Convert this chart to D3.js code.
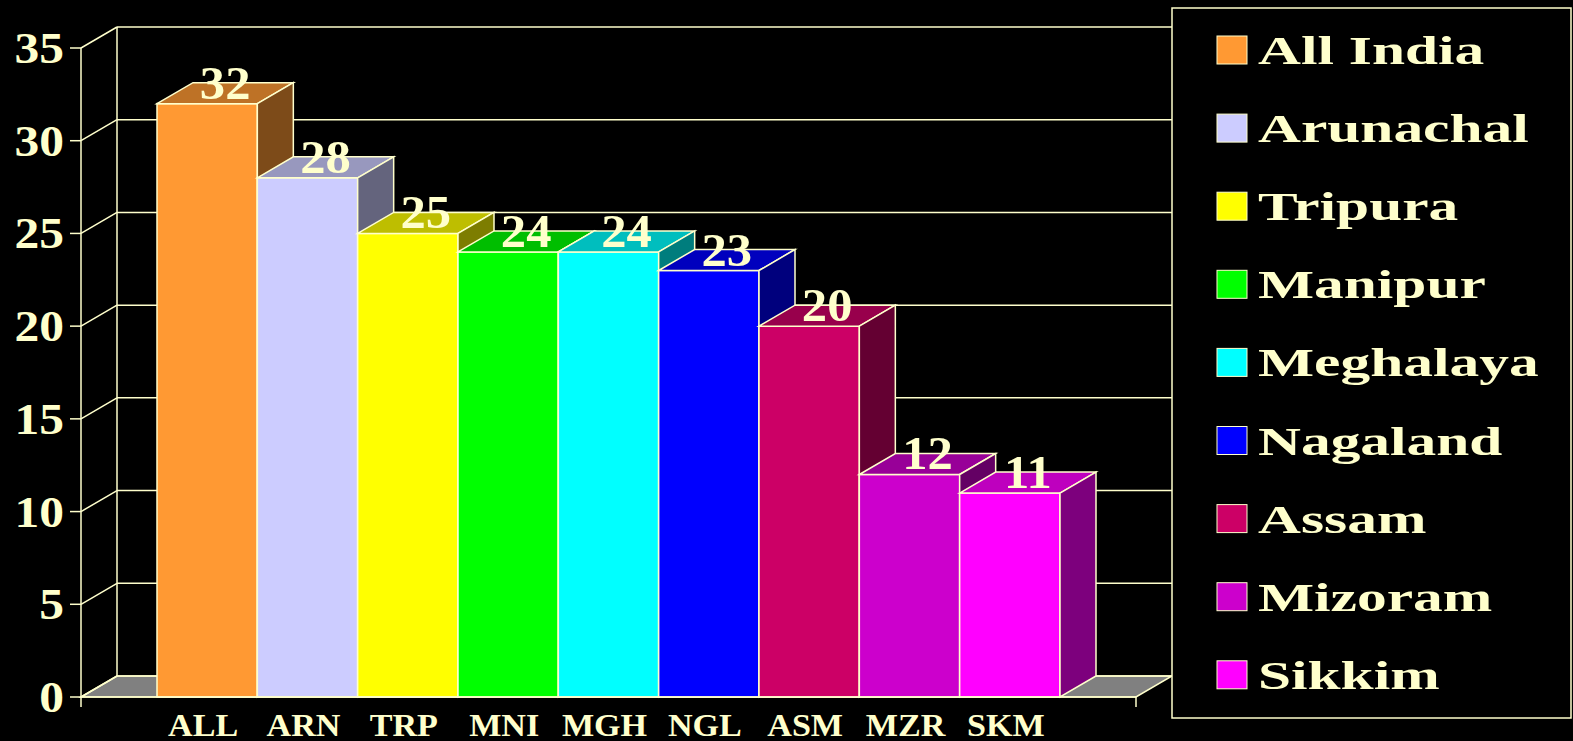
<!DOCTYPE html>
<html>
<head>
<meta charset="utf-8">
<script src="https://cdn.jsdelivr.net/npm/d3@7"></script>
<style>
  html, body { margin: 0; padding: 0; background: #000; overflow: hidden; }
  text { font-family: "Liberation Serif", "Times New Roman", serif; font-weight: bold; fill: #FFFFCC; }
</style>
</head>
<body>
<div class="barChart"></div>
<script>
var codes = ["ALL", "ARN", "TRP", "MNI", "MGH", "NGL", "ASM", "MZR", "SKM"];
var states = ["All India", "Arunachal", "Tripura", "Manipur", "Meghalaya", "Nagaland", "Assam", "Mizoram", "Sikkim"];
var values = [32, 28, 25, 24, 24, 23, 20, 12, 11];
var colors = ["#FF9933", "#CCCCFF", "#FFFF00", "#00FF00", "#00FFFF", "#0000FF", "#CC0066", "#CC00CC", "#FF00FF"];
var yTicks = [0, 5, 10, 15, 20, 25, 30, 35];

function init() {
  var w = 1573;
  var h = 741;
  var cream = "#FFFFCC";
  // oblique depth of the 3d box
  var dx = 36;
  var dy = -21;
  var axisLeft = 81;
  var axisRight = 1136;
  var stretch = " scale(1.1,1)"; // the slide text is a little wider than plain Times

  var dataset = codes.map(function(c, i) {
    return { code: c, name: states[i], value: values[i], color: colors[i] };
  });

  var xScale = d3.scaleBand()
    .domain(codes)
    .range([157, 1060])
    .padding(0);

  var yScale = d3.scaleLinear()
    .domain([0, 35])
    .range([697, 48]);

  var svg = d3.select(".barChart")
    .append("svg")
    .attr("width", w)
    .attr("height", h);

  var y0 = yScale(0);

  // floor
  svg.append("polygon")
    .attr("points", [[axisLeft, y0], [axisLeft + dx, y0 + dy], [axisRight + dx, y0 + dy], [axisRight, y0]].join(" "))
    .attr("fill", "#808080")
    .attr("stroke", cream)
    .attr("stroke-width", 1.5);

  // back wall gridlines and side wall diagonals
  svg.selectAll("line.grid")
    .data(yTicks)
    .enter()
    .append("line")
    .attr("class", "grid")
    .attr("x1", axisLeft + dx)
    .attr("x2", axisRight + dx)
    .attr("y1", function(d) { return yScale(d) + dy; })
    .attr("y2", function(d) { return yScale(d) + dy; })
    .attr("stroke", cream)
    .attr("stroke-width", 1.5);

  svg.selectAll("line.side")
    .data(yTicks)
    .enter()
    .append("line")
    .attr("class", "side")
    .attr("x1", axisLeft)
    .attr("x2", axisLeft + dx)
    .attr("y1", function(d) { return yScale(d); })
    .attr("y2", function(d) { return yScale(d) + dy; })
    .attr("stroke", cream)
    .attr("stroke-width", 1.5);

  svg.append("line")
    .attr("x1", axisLeft + dx)
    .attr("x2", axisLeft + dx)
    .attr("y1", yScale(0) + dy)
    .attr("y2", yScale(35) + dy)
    .attr("stroke", cream)
    .attr("stroke-width", 1.5);

  // bars, drawn left to right so each one covers the side of the previous
  var bars = svg.selectAll("g.bar")
    .data(dataset)
    .enter()
    .append("g")
    .attr("class", "bar");

  bars.append("rect")
    .attr("x", function(d) { return xScale(d.code); })
    .attr("y", function(d) { return yScale(d.value); })
    .attr("width", xScale.bandwidth())
    .attr("height", function(d) { return y0 - yScale(d.value); })
    .attr("fill", function(d) { return d.color; })
    .attr("stroke", cream)
    .attr("stroke-width", 1.5);

  bars.append("polygon")
    .attr("points", function(d) {
      var x0 = xScale(d.code), x1 = x0 + xScale.bandwidth(), yv = yScale(d.value);
      return [[x0, yv], [x0 + dx, yv + dy], [x1 + dx, yv + dy], [x1, yv]].join(" ");
    })
    .attr("fill", function(d) { return d3.rgb(d.color).darker(0.83); })
    .attr("stroke", cream)
    .attr("stroke-width", 1.5);

  bars.append("polygon")
    .attr("points", function(d) {
      var x1 = xScale(d.code) + xScale.bandwidth(), yv = yScale(d.value);
      return [[x1, yv], [x1 + dx, yv + dy], [x1 + dx, y0 + dy], [x1, y0]].join(" ");
    })
    .attr("fill", function(d) { return d3.rgb(d.color).darker(2); })
    .attr("stroke", cream)
    .attr("stroke-width", 1.5);

  // value labels
  svg.selectAll("text.value")
    .data(dataset)
    .enter()
    .append("text")
    .attr("class", "value")
    .text(function(d) { return d.value; })
    .attr("transform", function(d) {
      return "translate(" + (xScale(d.code) + xScale.bandwidth() / 2 + dx / 2) + "," + (yScale(d.value) - 5) + ")" + stretch;
    })
    .attr("text-anchor", "middle")
    .attr("font-size", "46px");

  // front axes
  svg.append("line")
    .attr("x1", axisLeft).attr("x2", axisLeft)
    .attr("y1", yScale(35)).attr("y2", y0 + 10)
    .attr("stroke", cream).attr("stroke-width", 1.5);

  svg.append("line")
    .attr("x1", axisLeft).attr("x2", axisRight)
    .attr("y1", y0).attr("y2", y0)
    .attr("stroke", cream).attr("stroke-width", 1.5);

  svg.append("line")
    .attr("x1", axisRight).attr("x2", axisRight)
    .attr("y1", y0).attr("y2", y0 + 10)
    .attr("stroke", cream).attr("stroke-width", 1.5);

  svg.selectAll("line.tick")
    .data(yTicks)
    .enter()
    .append("line")
    .attr("class", "tick")
    .attr("x1", axisLeft - 11)
    .attr("x2", axisLeft)
    .attr("y1", function(d) { return yScale(d); })
    .attr("y2", function(d) { return yScale(d); })
    .attr("stroke", cream)
    .attr("stroke-width", 1.5);

  svg.selectAll("text.ytick")
    .data(yTicks)
    .enter()
    .append("text")
    .attr("class", "ytick")
    .text(function(d) { return d; })
    .attr("transform", function(d) {
      return "translate(" + (axisLeft - 17) + "," + (yScale(d) + 15) + ")" + stretch;
    })
    .attr("text-anchor", "end")
    .attr("font-size", "45px");

  svg.selectAll("text.cat")
    .data(dataset)
    .enter()
    .append("text")
    .attr("class", "cat")
    .text(function(d) { return d.code; })
    .attr("transform", function(d) {
      return "translate(" + (xScale(d.code) + xScale.bandwidth() / 2 - 4) + ",736)" + stretch;
    })
    .attr("text-anchor", "middle")
    .attr("font-size", "31px");

  // legend
  var legend = svg.append("g");

  legend.append("rect")
    .attr("x", 1172)
    .attr("y", 8)
    .attr("width", 399)
    .attr("height", 710)
    .attr("fill", "#000")
    .attr("stroke", cream)
    .attr("stroke-width", 1.5);

  var item = legend.selectAll("g.item")
    .data(dataset)
    .enter()
    .append("g")
    .attr("class", "item")
    .attr("transform", function(d, i) { return "translate(1217," + (50 + i * 78.1) + ")"; });

  item.append("rect")
    .attr("x", 0)
    .attr("y", -14)
    .attr("width", 30)
    .attr("height", 28)
    .attr("fill", function(d) { return d.color; })
    .attr("stroke", cream)
    .attr("stroke-width", 1);

  item.append("text")
    .text(function(d) { return d.name; })
    .attr("transform", "translate(41,14) scale(1.45,1)")
    .attr("font-size", "41px");
}

window.onload = init;
</script>
</body>
</html>
